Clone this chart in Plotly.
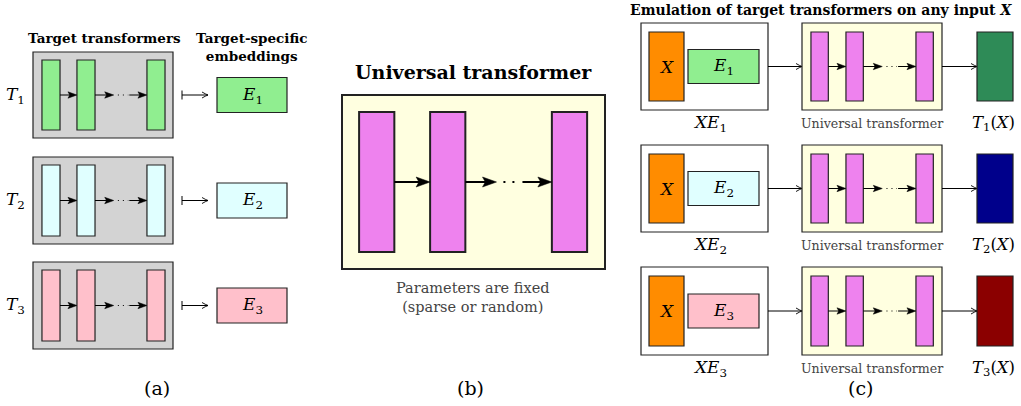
import plotly.graph_objects as go

W, H = 1021, 406

# ---- diagram content ----
row_ids = ["1", "2", "3"]
emb_colors = ["#90EE90", "#E0FFFF", "#FFC0CB"]      # target-specific embeddings
out_colors = ["#2E8B57", "#00008B", "#8B0000"]      # outputs T_i(X)
box_gray = "#D3D3D3"
univ_fill = "#FFFFE0"
univ_bar = "#EE82EE"
x_fill = "#FF8C00"
panel_labels = ["(a)", "(b)", "(c)"]
title_a = "Target transformers"
title_a2 = "Target-specific<br>embeddings"
title_b = "Universal transformer"
note_b = "Parameters are fixed<br>(sparse or random)"
title_c = "Emulation of target transformers on any input <i>X</i>"
univ_caption = "Universal transformer"

SERIF = "DejaVu Serif"
shapes = []
annotations = []


def rect(x0, y0, x1, y1, fill, line="#222", lw=1.0):
    shapes.append(dict(type="rect", xref="x", yref="y", x0=x0, y0=y0, x1=x1, y1=y1,
                       fillcolor=fill, line=dict(color=line, width=lw), layer="above"))


def line(x0, y0, x1, y1, lw=1.0, dash="solid", color="black"):
    shapes.append(dict(type="line", xref="x", yref="y", x0=x0, y0=y0, x1=x1, y1=y1,
                       line=dict(color=color, width=lw, dash=dash), layer="above"))


def arrow(x0, y, x1, filled=True, lw=1.0, L=8, h=3.5):
    """horizontal arrow from x0 to tip x1 at height y"""
    if filled:
        line(x0, y, x1 - L * 0.6, y, lw=lw)
        shapes.append(dict(type="path", xref="x", yref="y",
                           path=f"M {x1},{y} L {x1 - L},{y - h} L {x1 - L * 0.8},{y} L {x1 - L},{y + h} Z",
                           fillcolor="black", line=dict(color="black", width=0.5), layer="above"))
    else:
        line(x0, y, x1, y, lw=lw)
        shapes.append(dict(type="path", xref="x", yref="y",
                           path=f"M {x1 - L},{y - h} Q {x1 - L * 0.4},{y - h * 0.3} {x1},{y} "
                                f"Q {x1 - L * 0.4},{y + h * 0.3} {x1 - L},{y + h}",
                           line=dict(color="black", width=lw * 0.9), layer="above"))


def text(x, y, s, size=14, color="black", bold=False, xanchor="center"):
    if bold:
        s = "<b>" + s + "</b>"
    annotations.append(dict(x=x, y=y, xref="x", yref="y", text=s, showarrow=False,
                            xanchor=xanchor, yanchor="middle",
                            font=dict(family=SERIF, size=size, color=color)))


def transformer(x0, y0, x1, y1, box_fill, bar_fill, offs, bw, inset, lw, L, h, box_lw, dots):
    rect(x0, y0, x1, y1, box_fill, lw=box_lw)
    w = x1 - x0
    bars = []
    for o in offs:
        bx0 = x0 + o * w
        bx1 = bx0 + bw * w
        rect(bx0, y0 + inset, bx1, y1 - inset, bar_fill, lw=box_lw)
        bars.append((bx0, bx1))
    yc = (y0 + y1) / 2
    arrow(bars[0][1], yc, bars[1][0], lw=lw, L=L, h=h)
    gap = bars[2][0] - bars[1][1]
    tip = bars[1][1] + gap * 0.36
    arrow(bars[1][1], yc, tip, lw=lw, L=L, h=h)
    line(tip + gap * 0.08, yc, bars[1][1] + gap * 0.64, yc, lw=lw, dash=dots)
    arrow(bars[1][1] + gap * 0.66, yc, bars[2][0], lw=lw, L=L, h=h)


# ---------------- panel (a) ----------------
text(104, 38, title_a, size=13.5, bold=True)
text(252, 47, title_a2, size=13.5, bold=True)
a_rows = [(52, 138), (157, 244), (262, 349)]
for i, (y0, y1) in enumerate(a_rows):
    yc = (y0 + y1) / 2
    transformer(33, y0, 173, y1, box_gray, emb_colors[i],
                offs=[0.064, 0.314, 0.814], bw=0.129, inset=8, lw=1.0, L=9, h=3.2,
                box_lw=1.2, dots="1px,4px")
    text(15, yc, "<i>T</i><sub>" + row_ids[i] + "</sub>", size=17)
    line(182, yc - 4.5, 182, yc + 4.5, lw=1.0)
    arrow(182, yc, 208, filled=False, lw=1.0, L=6, h=3)
    rect(217, yc - 17.5, 287, yc + 17.5, emb_colors[i], lw=1.2)
    text(252, yc, "<i>E</i><sub>" + row_ids[i] + "</sub>", size=17)

# ---------------- panel (b) ----------------
text(473, 72, title_b, size=19, bold=True)
transformer(342, 95, 605, 269, univ_fill, univ_bar,
            offs=[0.065, 0.335, 0.798], bw=0.134, inset=17, lw=2.0, L=14, h=5,
            box_lw=2.0, dots="2px,7px")
text(473, 297, note_b, size=14.5, color="#444444")

# ---------------- panel (c) ----------------
text(821, 10, title_c, size=14, bold=True)
c_rows = [(23, 110), (145, 232), (267, 355)]
for i, (y0, y1) in enumerate(c_rows):
    yc = (y0 + y1) / 2
    rect(641, y0, 768, y1, "white", lw=1.2)
    rect(649, y0 + 9, 684, y1 - 9, x_fill, lw=1.2)
    text(666.5, yc, "<i>X</i>", size=17)
    rect(688, yc - 17, 759, yc + 17, emb_colors[i], lw=1.2)
    text(723.5, yc, "<i>E</i><sub>" + row_ids[i] + "</sub>", size=17)
    arrow(768, yc, 802, filled=False, lw=1.0, L=6, h=3)
    transformer(802, y0, 942, y1, univ_fill, univ_bar,
                offs=[0.064, 0.314, 0.814], bw=0.124, inset=9, lw=1.0, L=9, h=3.2,
                box_lw=1.2, dots="1px,4px")
    arrow(942, yc, 977, filled=False, lw=1.0, L=6, h=3)
    rect(977, y0 + 9, 1013, y1 - 9, out_colors[i], lw=1.2)
    cy = y1 + 13
    text(710, cy, "<i>XE</i><sub>" + row_ids[i] + "</sub>", size=17)
    text(872, cy, univ_caption, size=12.6, color="#444444")
    text(993, cy, "<i>T</i><sub>" + row_ids[i] + "</sub>(<i>X</i>)", size=16.5)

for lbl, x in zip(panel_labels, [157, 470, 860]):
    text(x, 388, lbl, size=19)

fig = go.Figure()
fig.add_trace(go.Scatter(x=[0, W], y=[0, H], mode="markers", marker=dict(opacity=0),
                         hoverinfo="skip", showlegend=False))
fig.update_layout(
    width=W, height=H,
    margin=dict(l=0, r=0, t=0, b=0),
    paper_bgcolor="white", plot_bgcolor="white",
    xaxis=dict(range=[0, W], visible=False, fixedrange=True),
    yaxis=dict(range=[H, 0], visible=False, fixedrange=True),
    shapes=shapes, annotations=annotations, showlegend=False,
)
fig.write_html("out.html", config={"displayModeBar": False},
               post_script="document.body.style.margin='0';document.body.style.overflow='hidden';")
